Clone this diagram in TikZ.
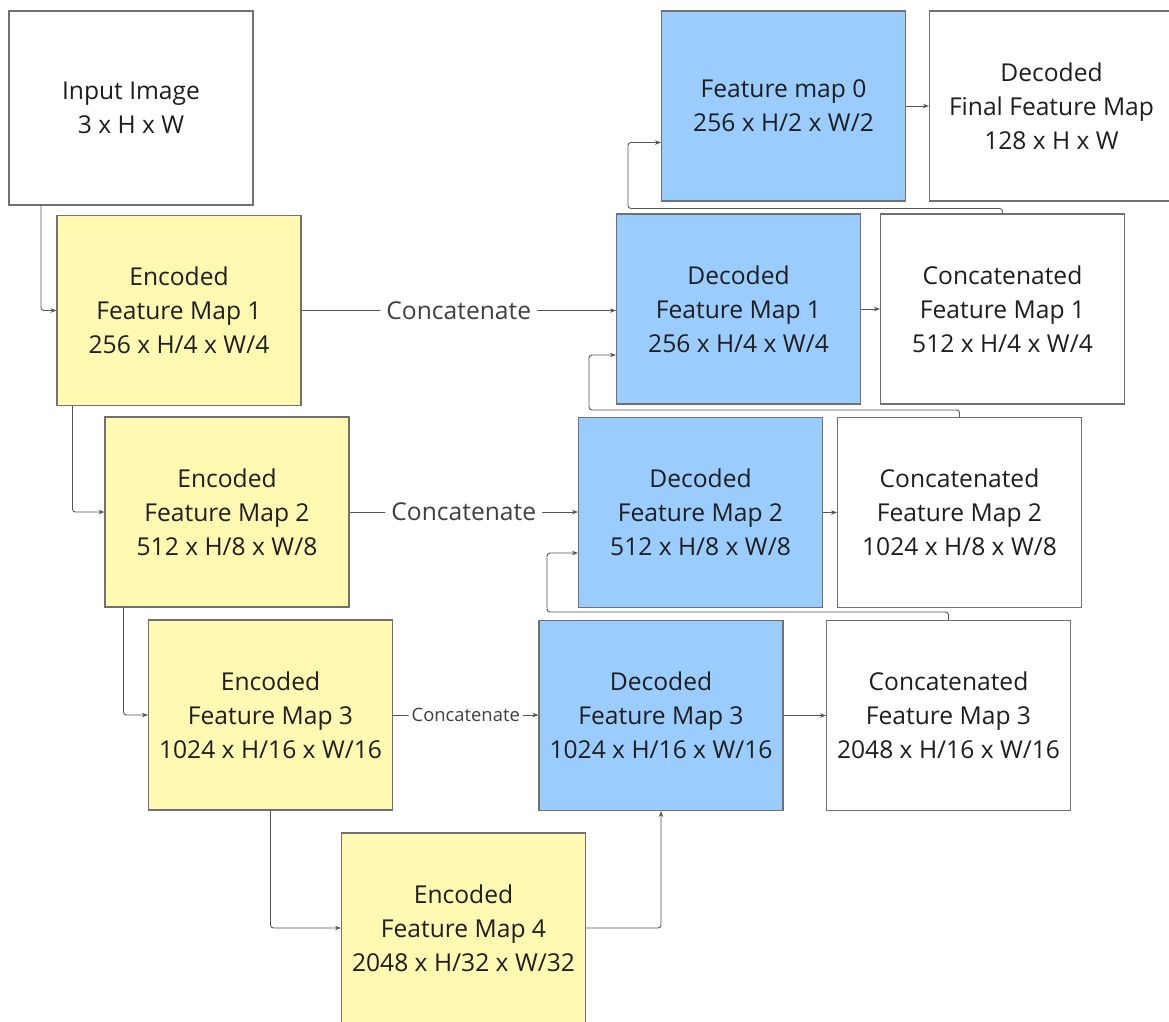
\documentclass[tikz,border=0pt]{standalone}
\usepackage{fontspec}
\setmainfont{Open Sans}
\usetikzlibrary{arrows.meta,calc}

\definecolor{encfill}{RGB}{255,249,177}
\definecolor{decfill}{RGB}{154,205,253}
\definecolor{boxline}{RGB}{112,112,112}
\definecolor{linkline}{RGB}{85,85,85}
\definecolor{txt}{RGB}{30,30,30}

\tikzset{
  fmap/.style={draw=boxline, line width=1.1pt, minimum width=244pt, minimum height=190pt,
    inner sep=0pt, align=center, text=txt, font=\fontsize{24.6}{34}\selectfont},
  enc/.style={fmap, fill=encfill},
  dec/.style={fmap, fill=decfill},
  plain/.style={fmap, fill=white},
  conn/.style={draw=linkline, line width=0.9pt, rounded corners=3pt,
    -{Stealth[length=6pt,width=4.5pt]}},
  catlabel/.style={fill=white, text=txt!85, inner xsep=6pt, inner ysep=2pt,
    font=\fontsize{24.6}{28}\selectfont},
  catsmall/.style={fill=white, text=txt!85, inner xsep=3pt, inner ysep=2pt,
    font=\fontsize{18.4}{20}\selectfont}
}

\begin{document}
\begin{tikzpicture}[x=1pt,y=-1pt]
\clip (0,0) rectangle (1169,1021);
\fill[white] (0,0) rectangle (1169,1021);

% encoder column
\node[plain, minimum height=194pt] (in) at (131,108) {Input Image\\3 x H x W};
\node[enc] (e1) at (179,310.5) {Encoded\\Feature Map 1\\256 x H/4 x W/4};
\node[enc] (e2) at (227,512) {Encoded\\Feature Map 2\\512 x H/8 x W/8};
\node[enc] (e3) at (270.5,715) {Encoded\\Feature Map 3\\1024 x H/16 x W/16};
\node[enc] (e4) at (463.5,928) {Encoded\\Feature Map 4\\2048 x H/32 x W/32};

% decoder column
\node[dec] (f0) at (783.5,106) {Feature map 0\\256 x H/2 x W/2};
\node[plain] (fin) at (1051.5,106) {Decoded\\Final Feature Map\\128 x H x W};
\node[dec] (d1) at (738.5,309) {Decoded\\Feature Map 1\\256 x H/4 x W/4};
\node[plain] (c1) at (1002.5,309) {Concatenated\\Feature Map 1\\512 x H/4 x W/4};
\node[dec] (d2) at (700.5,512.5) {Decoded\\Feature Map 2\\512 x H/8 x W/8};
\node[plain] (c2) at (959.5,512.5) {Concatenated\\Feature Map 2\\1024 x H/8 x W/8};
\node[dec] (d3) at (661,715.5) {Decoded\\Feature Map 3\\1024 x H/16 x W/16};
\node[plain] (c3) at (948.5,715.5) {Concatenated\\Feature Map 3\\2048 x H/16 x W/16};

% downsampling path
\draw[conn] ([xshift=32.5pt]in.south west) |- (e1.west);
\draw[conn] ([xshift=16pt]e1.south west) |- (e2.west);
\draw[conn] ([xshift=19pt]e2.south west) |- (e3.west);
\draw[conn] (e3.south) |- (e4.west);
\draw[conn] (e4.east) -| (d3.south);

% skip connections
\draw[conn] (e1.east) -- node[catlabel] {Concatenate} (d1.west |- e1.east);
\draw[conn] (e2.east) -- node[catlabel] {Concatenate} (d2.west |- e2.east);
\draw[conn] (e3.east) -- node[catsmall] {Concatenate} (d3.west |- e3.east);

% decoder to concatenation
\draw[conn] (d1.east) -- (c1.west);
\draw[conn] (d2.east) -- (c2.west);
\draw[conn] (d3.east) -- (c3.west);
\draw[conn] (f0.east) -- (fin.west);

% upsampling loops
\coordinate (k3) at ($(d2.west)+(-31,40.5)$);
\coordinate (k2) at ($(d1.west)+(-27,46)$);
\coordinate (k1) at ($(f0.west)+(-33,36.5)$);
\draw[conn] (c3.north) -- ++(0,-8) -| (k3) -- (k3 -| d2.west);
\draw[conn] (c2.north) -- ++(0,-7) -| (k2) -- (k2 -| d1.west);
\draw[conn] (c1.north) -- ++(0,-5) -| (k1) -- (k1 -| f0.west);
\end{tikzpicture}
\end{document}
